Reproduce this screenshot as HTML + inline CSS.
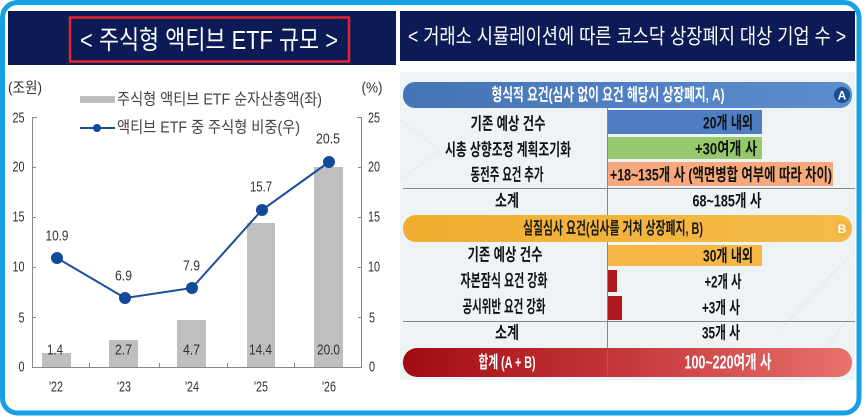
<!DOCTYPE html>
<html><head><meta charset="utf-8"><style>
html,body{margin:0;padding:0;background:#fff;}
svg{display:block;}
text{font-family:"Liberation Sans","Noto Sans CJK KR",sans-serif;}
</style></head><body>
<svg width="866" height="417" viewBox="0 0 866 417" xmlns="http://www.w3.org/2000/svg">
<defs>
<linearGradient id="gA" x1="0" x2="1" y1="0" y2="0"><stop offset="0" stop-color="#4574b6"/><stop offset="1" stop-color="#5c8dcc"/></linearGradient>
<linearGradient id="gB" x1="0" x2="1" y1="0" y2="0"><stop offset="0" stop-color="#f0ae30"/><stop offset="1" stop-color="#f5bb4a"/></linearGradient>
<linearGradient id="gT" x1="0" x2="1" y1="0" y2="0"><stop offset="0" stop-color="#a20c10"/><stop offset="0.5" stop-color="#c6383a"/><stop offset="1" stop-color="#e8726c"/></linearGradient>
</defs>
<rect width="866" height="417" fill="#fff"/>

<!-- title bars -->
<rect x="8" y="11" width="388" height="54" fill="#0c1a55"/>
<rect x="400" y="11" width="455" height="50" fill="#0c1a55"/>
<rect x="70" y="17.5" width="279" height="44" fill="none" stroke="#e3262d" stroke-width="2.5"/>
<text x="209" y="40" text-anchor="middle" dominant-baseline="central" font-size="26" fill="#fff" textLength="258" lengthAdjust="spacingAndGlyphs">&lt; 주식형 액티브 ETF 규모 &gt;</text>
<text x="627" y="37" text-anchor="middle" dominant-baseline="central" font-size="21" fill="#fff" textLength="438" lengthAdjust="spacingAndGlyphs">&lt; 거래소 시뮬레이션에 따른 코스닥 상장폐지 대상 기업 수 &gt;</text>

<!-- ===== LEFT CHART ===== -->
<text x="25" y="88" text-anchor="middle" dominant-baseline="central" font-size="15" fill="#333" textLength="34" lengthAdjust="spacingAndGlyphs">(조원)</text>
<text x="372" y="88" text-anchor="middle" dominant-baseline="central" font-size="15" fill="#333" textLength="21" lengthAdjust="spacingAndGlyphs">(%)</text>

<!-- legend -->
<rect x="80" y="96" width="35" height="7" fill="#bfbfbf"/>
<text x="117" y="100" dominant-baseline="central" font-size="16" fill="#444" textLength="205" lengthAdjust="spacingAndGlyphs">주식형 액티브 ETF 순자산총액(좌)</text>
<line x1="80" y1="128" x2="115" y2="128" stroke="#1a4f9c" stroke-width="2"/>
<circle cx="97" cy="128" r="4" fill="#114a99"/>
<text x="117" y="128" dominant-baseline="central" font-size="16" fill="#444" textLength="183" lengthAdjust="spacingAndGlyphs">액티브 ETF 중 주식형 비중(우)</text>

<!-- axes -->
<g stroke="#888" stroke-width="1" fill="none">
<line x1="32.5" y1="117" x2="32.5" y2="367.5"/>
<line x1="361.5" y1="117" x2="361.5" y2="367.5"/>
<line x1="32" y1="367.5" x2="362" y2="367.5"/>
<line x1="32" y1="117.5" x2="37" y2="117.5"/>
<line x1="32" y1="167.5" x2="36" y2="167.5"/>
<line x1="32" y1="217.5" x2="36" y2="217.5"/>
<line x1="32" y1="267.5" x2="36" y2="267.5"/>
<line x1="32" y1="317.5" x2="36" y2="317.5"/>
<line x1="357" y1="117.5" x2="362" y2="117.5"/>
<line x1="358" y1="167.5" x2="362" y2="167.5"/>
<line x1="358" y1="217.5" x2="362" y2="217.5"/>
<line x1="358" y1="267.5" x2="362" y2="267.5"/>
<line x1="358" y1="317.5" x2="362" y2="317.5"/>
<line x1="89.5" y1="363" x2="89.5" y2="367"/>
<line x1="159.5" y1="363" x2="159.5" y2="367"/>
<line x1="227.5" y1="363" x2="227.5" y2="367"/>
<line x1="294.5" y1="363" x2="294.5" y2="367"/>
</g>

<!-- tick labels -->
<g font-size="15" fill="#333" dominant-baseline="central">
<text x="24.5" y="118" text-anchor="end" textLength="12" lengthAdjust="spacingAndGlyphs">25</text>
<text x="24.5" y="167" text-anchor="end" textLength="12" lengthAdjust="spacingAndGlyphs">20</text>
<text x="24.5" y="217" text-anchor="end" textLength="12" lengthAdjust="spacingAndGlyphs">15</text>
<text x="24.5" y="267" text-anchor="end" textLength="12" lengthAdjust="spacingAndGlyphs">10</text>
<text x="24.5" y="318" text-anchor="end" textLength="6" lengthAdjust="spacingAndGlyphs">5</text>
<text x="24.5" y="367" text-anchor="end" textLength="6" lengthAdjust="spacingAndGlyphs">0</text>
<text x="368" y="118" textLength="12" lengthAdjust="spacingAndGlyphs">25</text>
<text x="368" y="167" textLength="12" lengthAdjust="spacingAndGlyphs">20</text>
<text x="368" y="217" textLength="12" lengthAdjust="spacingAndGlyphs">15</text>
<text x="368" y="267" textLength="12" lengthAdjust="spacingAndGlyphs">10</text>
<text x="369" y="318" textLength="6" lengthAdjust="spacingAndGlyphs">5</text>
<text x="369" y="367" textLength="6" lengthAdjust="spacingAndGlyphs">0</text>
</g>

<!-- bars -->
<g fill="#bfbfbf">
<rect x="42" y="353" width="29" height="14"/>
<rect x="109" y="340" width="29" height="27"/>
<rect x="177" y="320" width="29" height="47"/>
<rect x="247" y="223" width="28" height="144"/>
<rect x="314" y="167" width="29" height="200"/>
</g>

<!-- bar labels -->
<g font-size="15" fill="#333" dominant-baseline="central" text-anchor="middle">
<text x="55" y="350" textLength="16" lengthAdjust="spacingAndGlyphs">1.4</text>
<text x="123.5" y="350" textLength="17" lengthAdjust="spacingAndGlyphs">2.7</text>
<text x="191.5" y="350" textLength="17" lengthAdjust="spacingAndGlyphs">4.7</text>
<text x="260.5" y="350" textLength="23" lengthAdjust="spacingAndGlyphs">14.4</text>
<text x="328.5" y="350" textLength="23" lengthAdjust="spacingAndGlyphs">20.0</text>
</g>

<!-- line -->
<polyline points="57,258 125,298 192,288 262,210 329,162" fill="none" stroke="#1a4f9c" stroke-width="2"/>
<g fill="#114a99">
<circle cx="57" cy="258" r="6"/>
<circle cx="125" cy="298" r="6"/>
<circle cx="192" cy="288" r="6"/>
<circle cx="262" cy="210" r="6"/>
<circle cx="329" cy="162" r="6"/>
</g>

<!-- line labels -->
<g font-size="15" fill="#333" dominant-baseline="central" text-anchor="middle">
<text x="57" y="236" textLength="23" lengthAdjust="spacingAndGlyphs">10.9</text>
<text x="123.5" y="276" textLength="17" lengthAdjust="spacingAndGlyphs">6.9</text>
<text x="191.5" y="266" textLength="17" lengthAdjust="spacingAndGlyphs">7.9</text>
<text x="261" y="187" textLength="22" lengthAdjust="spacingAndGlyphs">15.7</text>
<text x="328" y="139" textLength="24" lengthAdjust="spacingAndGlyphs">20.5</text>
</g>

<!-- x labels -->
<g font-size="15" fill="#333" dominant-baseline="central" text-anchor="middle">
<text x="56" y="387" textLength="14" lengthAdjust="spacingAndGlyphs">'22</text>
<text x="124" y="387" textLength="14" lengthAdjust="spacingAndGlyphs">'23</text>
<text x="192" y="387" textLength="14" lengthAdjust="spacingAndGlyphs">'24</text>
<text x="261" y="387" textLength="14" lengthAdjust="spacingAndGlyphs">'25</text>
<text x="329" y="387" textLength="14" lengthAdjust="spacingAndGlyphs">'26</text>
</g>

<!-- ===== RIGHT TABLE ===== -->
<rect x="400" y="72" width="455" height="308" fill="#eef3f6"/>
<g stroke="#e3e9ee" stroke-width="1" fill="none">
<polyline points="400,120 440,150 400,180"/>
<line x1="780" y1="330" x2="855" y2="250"/>
<line x1="800" y1="380" x2="855" y2="310"/>
</g>

<!-- A header -->
<rect x="403" y="82" width="449" height="26" rx="12" fill="url(#gA)"/>
<text x="608" y="95" text-anchor="middle" dominant-baseline="central" font-size="17" fill="#fff" font-weight="bold" textLength="233" lengthAdjust="spacingAndGlyphs">형식적 요건(심사 없이 요건 해당시 상장폐지, A)</text>
<circle cx="842" cy="95" r="8" fill="#1b4c98"/>
<text x="842" y="95.5" text-anchor="middle" dominant-baseline="central" font-size="12" font-weight="bold" fill="#fff">A</text>

<!-- colored bars -->
<rect x="608" y="110" width="154" height="24" fill="#4d7ec1"/>
<rect x="608" y="137" width="154" height="22" fill="#96c86d"/>
<rect x="608" y="162" width="225" height="24" fill="#f5a97c"/>
<rect x="608" y="245" width="154" height="21" fill="#f5b845"/>
<rect x="608" y="270" width="9" height="22" fill="#b01a1e"/>
<rect x="608" y="296" width="14" height="24" fill="#b01a1e"/>

<!-- separators -->
<g stroke="#888" stroke-width="1">
<line x1="403" y1="188.5" x2="855" y2="188.5"/>
<line x1="403" y1="321.5" x2="855" y2="321.5"/>
<line x1="607.5" y1="108" x2="607.5" y2="215"/>
<line x1="607.5" y1="242" x2="607.5" y2="348"/>
</g>

<!-- B header -->
<rect x="403" y="215" width="449" height="27" rx="13" fill="url(#gB)"/>
<text x="613" y="228.5" text-anchor="middle" dominant-baseline="central" font-size="17" fill="#1a1a1a" font-weight="bold" textLength="180" lengthAdjust="spacingAndGlyphs">실질심사 요건(심사를 거쳐 상장폐지, B)</text>
<circle cx="842" cy="228.5" r="8" fill="#f0b640"/>
<text x="842" y="229" text-anchor="middle" dominant-baseline="central" font-size="12" font-weight="bold" fill="#fff">B</text>

<!-- left column labels -->
<g font-size="17" fill="#111" font-weight="bold" dominant-baseline="central" text-anchor="middle">
<text x="508" y="124" textLength="75" lengthAdjust="spacingAndGlyphs">기존 예상 건수</text>
<text x="508" y="150" textLength="126" lengthAdjust="spacingAndGlyphs">시총 상향조정 계획조기화</text>
<text x="507" y="175" textLength="73" lengthAdjust="spacingAndGlyphs">동전주 요건 추가</text>
<text x="507" y="201" textLength="24" lengthAdjust="spacingAndGlyphs">소계</text>
<text x="505" y="255" textLength="75" lengthAdjust="spacingAndGlyphs">기존 예상 건수</text>
<text x="504" y="281" textLength="87" lengthAdjust="spacingAndGlyphs">자본잠식 요건 강화</text>
<text x="504" y="307" textLength="83" lengthAdjust="spacingAndGlyphs">공시위반 요건 강화</text>
<text x="507" y="333" textLength="24" lengthAdjust="spacingAndGlyphs">소계</text>
</g>

<!-- right column values -->
<g font-size="17" fill="#111" font-weight="bold" dominant-baseline="central" text-anchor="middle">
<text x="728" y="123" textLength="50" lengthAdjust="spacingAndGlyphs">20개 내외</text>
<text x="726" y="149" textLength="62" lengthAdjust="spacingAndGlyphs">+30여개 사</text>
<text x="721" y="175" textLength="222" lengthAdjust="spacingAndGlyphs">+18~135개 사 (액면병합 여부에 따라 차이)</text>
<text x="727" y="201" textLength="69" lengthAdjust="spacingAndGlyphs">68~185개 사</text>
<text x="728" y="256" textLength="50" lengthAdjust="spacingAndGlyphs">30개 내외</text>
<text x="723" y="282" textLength="37" lengthAdjust="spacingAndGlyphs">+2개 사</text>
<text x="721" y="308" textLength="38" lengthAdjust="spacingAndGlyphs">+3개 사</text>
<text x="721" y="333" textLength="38" lengthAdjust="spacingAndGlyphs">35개 사</text>
</g>

<!-- total -->
<rect x="403" y="348" width="449" height="29" rx="14" fill="url(#gT)"/>
<line x1="607.5" y1="350" x2="607.5" y2="375" stroke="#c45050" stroke-width="1"/>
<text x="507" y="362.5" text-anchor="middle" dominant-baseline="central" font-size="17" fill="#fff" font-weight="bold" textLength="57" lengthAdjust="spacingAndGlyphs">합계 (A + B)</text>
<text x="728" y="362.5" text-anchor="middle" dominant-baseline="central" font-size="18" fill="#fff" font-weight="bold" textLength="87" lengthAdjust="spacingAndGlyphs">100~220여개 사</text>

<!-- outer border -->
<rect x="2.5" y="2.5" width="856.5" height="410.5" rx="15" fill="none" stroke="#18a0e4" stroke-width="5"/>
</svg>
</body></html>
